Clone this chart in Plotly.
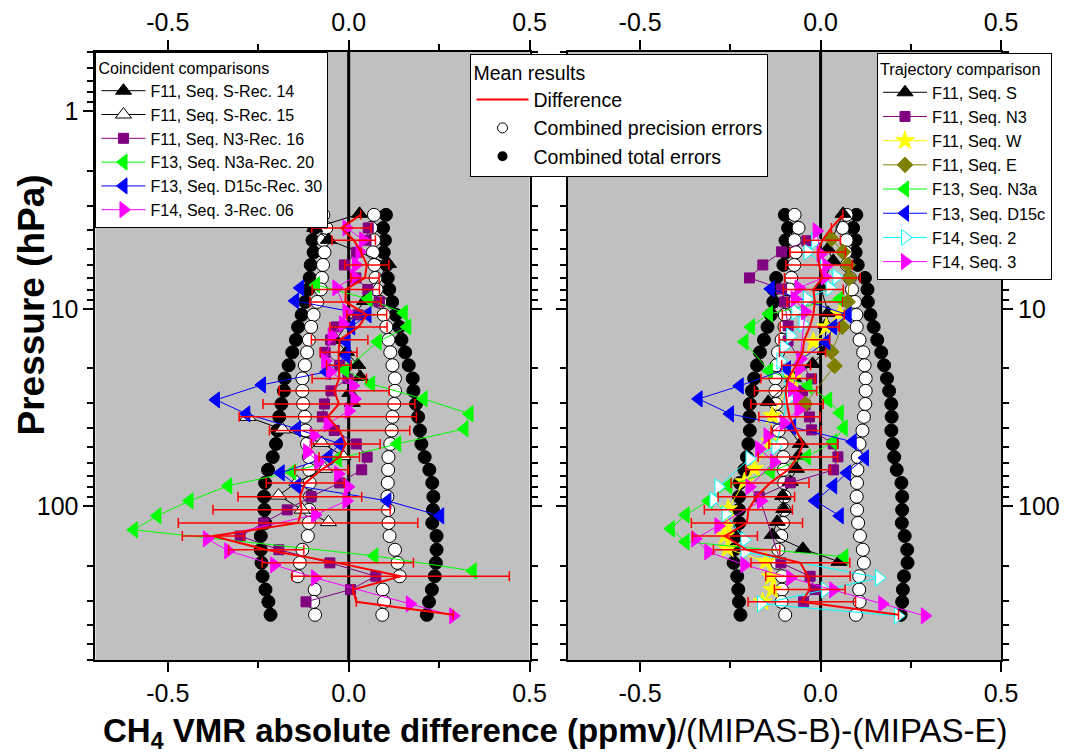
import plotly.graph_objects as go

FONT = "Liberation Sans, Arial, sans-serif"

# Common pressure grid (hPa) of the mean profiles
pressure_levels = [3.34, 3.89, 4.49, 5.17, 5.99, 6.97, 7.97, 9.22, 10.72, 12.34,
                   14.35, 16.6, 19.3, 22.5, 26.0, 30.3, 35.2, 41.3, 48.3, 56.3,
                   65.3, 76.1, 89.3, 104.2, 121.4, 141.3, 165.9, 193.3, 226.0, 264.0,
                   304.5, 354.3]

# Coincident comparisons: mean difference, its spread and combined errors (ppmv)
coinc_mean_diff = [0.033, -0.020, 0.014, 0.035, 0.050, 0.045, -0.008, -0.009, 0.050, 0.027,
                   -0.025, -0.028, -0.027, -0.026, -0.040, -0.027, -0.058, -0.025, -0.008, -0.026,
                   -0.075, -0.120, -0.135, -0.130, -0.140, -0.375, -0.228, -0.030, 0.144, 0.012,
                   0.021, 0.289]
coinc_mean_sd = [None, 0.082, 0.060, None, 0.061, 0.039, 0.093, 0.098, 0.055, 0.079,
                 0.078, 0.051, 0.034, 0.075, 0.152, 0.210, 0.245, 0.194, 0.095, 0.056,
                 0.074, 0.108, 0.171, 0.245, 0.331, 0.085, 0.104, 0.209, 0.300, None,
                 None, None]
coinc_precision = [0.070, 0.062, 0.070, 0.067, 0.071, 0.074, 0.077, 0.087, 0.097, 0.104,
                   0.110, 0.115, 0.121, 0.128, 0.128, 0.126, 0.121, 0.119, 0.115, 0.110,
                   0.109, 0.108, 0.107, 0.109, 0.110, 0.113, 0.128, 0.135, 0.141, 0.094,
                   0.098, 0.093]
coinc_total = [0.103, 0.095, 0.100, 0.097, 0.105, 0.108, 0.112, 0.120, 0.130, 0.140,
               0.146, 0.156, 0.166, 0.177, 0.179, 0.186, 0.192, 0.197, 0.201, 0.210,
               0.223, 0.231, 0.234, 0.233, 0.231, 0.243, 0.243, 0.241, 0.238, 0.230,
               0.222, 0.216]

# Trajectory comparison: mean difference, its spread and combined errors (ppmv)
traj_mean_diff = [0.062, 0.030, 0.005, -0.008, -0.004, 0.005, -0.020, -0.016, -0.020, -0.030,
                  -0.045, -0.050, -0.068, -0.090, -0.097, -0.093, -0.086, -0.068, -0.048, -0.063,
                  -0.090, -0.140, -0.178, -0.200, -0.204, -0.265, -0.205, -0.056, -0.035, -0.030,
                  -0.052, 0.216]
traj_mean_sd = [None, None, 0.050, 0.077, 0.092, 0.105, 0.083, 0.077, 0.086, 0.082,
                0.070, 0.064, 0.040, 0.075, 0.086, 0.100, 0.085, 0.069, 0.095, 0.110,
                0.117, 0.108, 0.106, 0.122, 0.154, 0.090, 0.092, 0.137, 0.117, 0.098,
                0.149, None]
traj_precision = [0.072, 0.061, 0.072, 0.069, 0.073, 0.081, 0.087, 0.095, 0.099, 0.100,
                  0.108, 0.118, 0.122, 0.125, 0.125, 0.124, 0.120, 0.116, 0.108, 0.103,
                  0.102, 0.101, 0.100, 0.101, 0.104, 0.109, 0.117, 0.120, 0.107, 0.107,
                  0.108, 0.098]
traj_total = [0.099, 0.090, 0.097, 0.097, 0.103, 0.123, 0.130, 0.131, 0.138, 0.147,
              0.157, 0.168, 0.176, 0.184, 0.190, 0.196, 0.197, 0.196, 0.200, 0.204,
              0.211, 0.224, 0.226, 0.226, 0.225, 0.233, 0.240, 0.241, 0.231, 0.228,
              0.226, 0.222]

# ---- Coincident comparison profiles (pressure hPa, difference ppmv) ----
rec14_p = [3.30, 3.89, 4.47, 5.92, 9.11, 14.35, 16.51, 19.21, 22.1, 26.63, 29.92]
rec14_v = [0.030, -0.094, -0.056, 0.110, 0.044, -0.036, -0.006, 0.025, 0.032, 0.003, 0.010]

rec15_p = [35.23, 40.8, 47.7, 55.7, 64.58, 75.4, 88.2, 103.9, 120.2]
rec15_v = [-0.279, -0.183, -0.074, -0.016, -0.067, -0.143, -0.194, -0.129, -0.056]

rec16_p = pressure_levels[1:31]
rec16_v = [0.054, 0.048, 0.022, -0.012, 0.020, 0.053, 0.085, 0.025, -0.034, -0.050,
           -0.065, -0.025, -0.002, -0.049, -0.067, -0.073, -0.040, 0.021, 0.051, 0.036,
           -0.025, -0.104, -0.170, -0.235, -0.300, -0.193, -0.052, 0.075, 0.005, -0.118]

rec20_p = [7.56, 8.90, 10.48, 12.34, 14.69, 20.4, 23.97, 28.56, 34.01, 40.52,
           48.26, 57.49, 66.88, 78.74, 93.8, 111.7, 131.5, 178.1, 212.2]
rec20_v = [-0.090, 0.054, 0.152, 0.162, 0.080, -0.010, 0.062, 0.207, 0.334, 0.320,
           0.134, -0.030, -0.156, -0.333, -0.440, -0.529, -0.594, 0.071, 0.343]

rec30_p = [7.83, 9.11, 10.72, 12.34, 14.69, 17.3, 20.84, 24.25, 28.89, 34.01,
           40.52, 48.26, 56.16, 67.67, 78.74, 93.8, 111.7]
rec30_v = [-0.134, -0.148, 0.052, 0.007, -0.006, -0.006, -0.061, -0.240, -0.367, -0.283,
           -0.143, -0.025, -0.056, -0.188, -0.143, 0.107, 0.253]

rec06_p = [3.89, 4.47, 5.14, 5.99, 6.89, 7.83, 10.35, 11.91, 13.7, 18.34,
           20.84, 24.54, 28.56, 32.85, 38.22, 43.95, 52.97, 59.54, 68.47, 79.67,
           93.8, 110.4, 146.1, 168.0, 197.8, 230.1, 311.7, 358.5]
rec06_v = [-0.006, 0.040, 0.030, 0.020, 0.014, -0.034, -0.006, -0.016, -0.047, -0.065,
           -0.052, 0.012, 0.016, 0.000, -0.058, -0.097, -0.115, -0.084, -0.029, -0.002,
           -0.006, -0.093, -0.392, -0.333, -0.206, -0.093, 0.169, 0.289]

# ---- Trajectory comparison profiles ----
seqS_p = [3.30, 4.97, 5.71, 7.74, 10.48, 12.05, 16.32, 18.99, 22.36, 29.57,
          48.26, 55.5, 64.58, 75.15, 88.5, 103.0, 119.8, 139.4, 164.1, 191.0]
seqS_v = [0.062, 0.020, 0.035, 0.000, 0.021, 0.015, 0.012, -0.022, -0.075, -0.145,
          -0.056, -0.061, -0.067, -0.084, -0.105, -0.102, -0.120, -0.134, -0.049, 0.051]

seqN3_p = [4.52, 5.14, 5.99, 6.97, 7.92, 9.22, 12.2, 14.52, 22.62, 26.02,
           30.63, 35.23, 41.0, 48.26, 56.16, 65.34, 76.03, 89.5, 193.3, 226.0,
           264.0, 304.5]
seqN3_v = [-0.038, -0.108, -0.160, -0.197, -0.108, -0.100, -0.090, -0.090, -0.025, -0.050,
           -0.043, -0.031, -0.025, 0.035, 0.048, 0.036, -0.084, -0.170, -0.110, -0.029,
           -0.015, -0.047]

seqW_p = [10.6, 12.34, 14.69, 22.62, 34.83, 47.14, 64.58, 75.15, 103.0, 125.5,
          141.1, 164.1, 191.0, 227.5, 264.7, 304.5]
seqW_v = [0.053, 0.016, -0.020, -0.079, -0.134, -0.140, -0.183, -0.211, -0.256, -0.260,
          -0.265, -0.258, -0.152, -0.138, -0.134, -0.161]

seqE_p = [4.42, 5.14, 5.99, 6.97, 9.22, 12.34, 16.51, 19.44, 30.27]
seqE_v = [0.030, 0.062, 0.075, 0.080, 0.075, 0.060, 0.030, 0.039, -0.043]

seqN3a_p = [8.90, 10.6, 12.34, 14.69, 20.6, 24.54, 28.89, 33.62, 40.05, 47.14,
            56.16, 66.88, 78.74, 93.8, 110.4, 130.0, 151.3, 180.2]
seqN3a_v = [0.053, -0.143, -0.193, -0.211, -0.143, -0.034, 0.021, 0.053, 0.064, 0.035,
            -0.038, -0.138, -0.256, -0.310, -0.374, -0.415, -0.374, 0.066]

seqD15c_p = [7.92, 10.72, 12.34, 14.69, 20.13, 24.54, 28.56, 34.01, 39.58, 47.14,
             56.82, 67.67, 78.74, 93.8, 111.7]
seqD15c_v = [-0.138, 0.075, 0.035, 0.016, -0.093, -0.224, -0.338, -0.251, -0.079, 0.089,
             0.123, 0.073, 0.035, -0.015, 0.053]

seq2_p = [4.52, 5.14, 5.99, 6.89, 7.83, 8.90, 10.35, 11.91, 13.7, 15.57,
          18.34, 28.56, 49.97, 57.49, 79.67, 92.7, 109.1, 147.8, 170.0, 230.1,
          264.7, 311.7, 358.5]
seq2_v = [-0.015, -0.036, 0.010, 0.044, 0.025, -0.038, -0.070, -0.050, -0.084, -0.102,
          -0.111, -0.090, -0.125, -0.197, -0.283, -0.297, -0.263, -0.211, -0.211, 0.162,
          0.012, -0.165, 0.215]

seq3_p = [4.03, 5.27, 6.06, 6.89, 7.83, 8.90, 10.35, 17.9, 20.13, 25.42,
          27.9, 32.46, 37.77, 43.95, 51.15, 59.54, 79.67, 93.8, 125.5, 146.1,
          170.0, 197.8, 230.1, 264.7, 311.7, 358.5]
seq3_v = [-0.011, 0.000, 0.016, 0.012, -0.061, -0.072, -0.043, -0.056, -0.060, -0.079,
          -0.065, -0.061, -0.102, -0.147, -0.170, -0.129, -0.197, -0.165, -0.283, -0.347,
          -0.311, -0.211, -0.084, 0.035, 0.171, 0.289]

BLACK, PURPLE, GREEN, BLUE = "#000000", "#800080", "#00FF00", "#0000FF"
MAGENTA, YELLOW, OLIVE, CYAN = "#FF00FF", "#FFFF00", "#808000", "#00FFFF"

fig = go.Figure()


def add_error_circles(xa, ya, values, fill):
    xs = list(values) + [-v for v in values]
    ys = pressure_levels + pressure_levels
    fig.add_trace(go.Scatter(
        x=xs, y=ys, mode="markers", xaxis=xa, yaxis=ya, showlegend=False,
        marker=dict(symbol="circle", size=13, color=fill, line=dict(color=BLACK, width=1)),
        hoverinfo="skip"))


def add_profile(xa, ya, p, v, name, color, symbol, size, fill=None, legend="legend"):
    fig.add_trace(go.Scatter(
        x=v, y=p, mode="lines+markers", name=name, xaxis=xa, yaxis=ya,
        line=dict(color=color, width=1),
        marker=dict(symbol=symbol, size=size, color=fill or color,
                    line=dict(color=color, width=1)),
        legend=legend))


# error envelopes
add_error_circles("x", "y", coinc_total, BLACK)
add_error_circles("x", "y", coinc_precision, "#FFFFFF")
add_error_circles("x2", "y2", traj_total, BLACK)
add_error_circles("x2", "y2", traj_precision, "#FFFFFF")

# coincident comparison profiles
add_profile("x", "y", rec14_p, rec14_v, "F11, Seq. S-Rec. 14", BLACK, "triangle-up", 14)
add_profile("x", "y", rec15_p, rec15_v, "F11, Seq. S-Rec. 15", BLACK, "triangle-up", 14, fill="#FFFFFF")
add_profile("x", "y", rec16_p, rec16_v, "F11, Seq. N3-Rec. 16", PURPLE, "square", 10)
add_profile("x", "y", rec20_p, rec20_v, "F13, Seq. N3a-Rec. 20", GREEN, "triangle-left", 14)
add_profile("x", "y", rec30_p, rec30_v, "F13, Seq. D15c-Rec. 30", BLUE, "triangle-left", 14)
add_profile("x", "y", rec06_p, rec06_v, "F14, Seq. 3-Rec. 06", MAGENTA, "triangle-right", 14)

# trajectory comparison profiles
add_profile("x2", "y2", seqS_p, seqS_v, "F11, Seq. S", BLACK, "triangle-up", 14, legend="legend3")
add_profile("x2", "y2", seqN3_p, seqN3_v, "F11, Seq. N3", PURPLE, "square", 10, legend="legend3")
add_profile("x2", "y2", seqW_p, seqW_v, "F11, Seq. W", YELLOW, "star", 14, legend="legend3")
add_profile("x2", "y2", seqE_p, seqE_v, "F11, Seq. E", OLIVE, "diamond", 12, legend="legend3")
add_profile("x2", "y2", seqN3a_p, seqN3a_v, "F13, Seq. N3a", GREEN, "triangle-left", 14, legend="legend3")
add_profile("x2", "y2", seqD15c_p, seqD15c_v, "F13, Seq. D15c", BLUE, "triangle-left", 14, legend="legend3")
add_profile("x2", "y2", seq2_p, seq2_v, "F14, Seq. 2", CYAN, "triangle-right", 14, fill="#FFFFFF", legend="legend3")
add_profile("x2", "y2", seq3_p, seq3_v, "F14, Seq. 3", MAGENTA, "triangle-right", 14, legend="legend3")


def add_mean(xa, ya, diff, sd, show):
    fig.add_trace(go.Scatter(
        x=diff, y=pressure_levels, mode="lines", name="Difference", xaxis=xa, yaxis=ya,
        line=dict(color="#FF0000", width=2),
        error_x=dict(type="data", array=sd, symmetric=True, color="#FF0000",
                     thickness=1.5, width=5),
        legend="legend2", showlegend=show))


add_mean("x", "y", coinc_mean_diff, coinc_mean_sd, True)
add_mean("x2", "y2", traj_mean_diff, traj_mean_sd, False)

# legend-only entries for the error symbols
fig.add_trace(go.Scatter(x=[None], y=[None], mode="markers", name="Combined precision errors",
                         marker=dict(symbol="circle", size=10, color="#FFFFFF",
                                     line=dict(color=BLACK, width=1)),
                         legend="legend2", xaxis="x", yaxis="y"))
fig.add_trace(go.Scatter(x=[None], y=[None], mode="markers", name="Combined total errors",
                         marker=dict(symbol="circle", size=10, color=BLACK),
                         legend="legend2", xaxis="x", yaxis="y"))

# empty traces so the top (mirrored) value axes are drawn
for xa, ya in (("x3", "y"), ("x4", "y2")):
    fig.add_trace(go.Scatter(x=[None], y=[None], mode="markers", xaxis=xa, yaxis=ya,
                             showlegend=False, hoverinfo="skip"))

# axes
x_ticks = [-0.5, 0.0, 0.5]
x_labels = ["-0.5", "0.0", "0.5"]
x_minor = [-0.25, 0.25]
p_ticks = [1, 10, 100]
p_labels = ["1", "10", "100"]
p_minor = [0.5, 0.6, 0.7, 0.8, 0.9, 2, 3, 4, 5, 6, 7, 8, 9,
           20, 30, 40, 50, 60, 70, 80, 90, 200, 300, 400, 500, 600]
x_range = [-0.7, 0.5]
p_range = [2.7782, -0.3010]

W, H = 1083, 755
left_dom = [97 / W, 538 / W]
right_dom = [577 / W, 1017 / W]
y_dom = [1 - 660 / H, 1 - 52 / H]

tick_font = dict(family=FONT, size=25, color=BLACK)

xcommon = dict(range=x_range, tickmode="array", tickvals=x_ticks, ticktext=x_labels,
               ticks="outside", ticklen=10, tickwidth=2, tickcolor=BLACK,
               minor=dict(tickmode="array", tickvals=x_minor, ticks="outside",
                          ticklen=6, tickwidth=2, tickcolor=BLACK),
               showgrid=False, zeroline=False, tickfont=tick_font)
ycommon = dict(type="log", range=p_range, tickmode="array", tickvals=p_ticks, ticktext=p_labels,
               ticks="outside", ticklen=10, tickwidth=2, tickcolor=BLACK,
               minor=dict(tickmode="array", tickvals=p_minor, ticks="outside",
                          ticklen=6, tickwidth=2, tickcolor=BLACK),
               showgrid=False, zeroline=False, tickfont=tick_font,
               showline=True, linecolor=BLACK, linewidth=2, mirror="ticks")

legend_box = dict(xanchor="left", yanchor="top", bgcolor="#FFFFFF",
                  bordercolor=BLACK, borderwidth=1, tracegroupgap=0)

fig.update_layout(
    width=W, height=H,
    margin=dict(l=0, r=0, t=0, b=0),
    paper_bgcolor="#FFFFFF",
    plot_bgcolor="#C0C0C0",
    xaxis=dict(domain=left_dom, anchor="y", showline=True, linecolor=BLACK, linewidth=2,
               mirror="ticks", **xcommon),
    xaxis3=dict(overlaying="x", side="top", anchor="y", showline=False, **xcommon),
    xaxis2=dict(domain=right_dom, anchor="y2", showline=True, linecolor=BLACK, linewidth=2,
                mirror="ticks", **xcommon),
    xaxis4=dict(overlaying="x2", side="top", anchor="y2", showline=False, **xcommon),
    yaxis=dict(domain=y_dom, anchor="x", side="left", **ycommon),
    yaxis2=dict(domain=y_dom, anchor="x2", side="right", **ycommon),
    legend=dict(x=97 / W, y=1 - 52 / H,
                font=dict(family=FONT, size=16, color=BLACK),
                title=dict(text="Coincident comparisons", font=dict(family=FONT, size=16)),
                itemwidth=44, **legend_box),
    legend2=dict(x=478 / W, y=1 - 54 / H,
                 font=dict(family=FONT, size=19.5, color=BLACK),
                 title=dict(text="Mean results", font=dict(family=FONT, size=19.5)),
                 itemwidth=52, **legend_box),
    legend3=dict(x=891 / W, y=1 - 53 / H,
                 font=dict(family=FONT, size=16.3, color=BLACK),
                 title=dict(text="Trajectory comparison", font=dict(family=FONT, size=16.3)),
                 itemwidth=44, **legend_box),
    shapes=[
        dict(type="line", xref="x", yref="y domain", x0=0, x1=0, y0=0, y1=1,
             line=dict(color=BLACK, width=3), layer="below"),
        dict(type="line", xref="x2", yref="y2 domain", x0=0, x1=0, y0=0, y1=1,
             line=dict(color=BLACK, width=3), layer="below"),
    ],
    annotations=[
        dict(text="<b>Pressure (hPa)</b>", xref="paper", yref="paper",
             x=31 / W, y=1 - 305 / H, xanchor="center", yanchor="middle",
             textangle=-90, showarrow=False,
             font=dict(family=FONT, size=37, color=BLACK)),
        dict(text="<b>CH<sub>4</sub> VMR absolute difference (ppmv)</b>/(MIPAS-B)-(MIPAS-E)",
             xref="paper", yref="paper", x=564 / W, y=1 - 733 / H,
             xanchor="center", yanchor="middle", showarrow=False,
             font=dict(family=FONT, size=33, color=BLACK)),
    ],
)

fig.write_html("out.html")
